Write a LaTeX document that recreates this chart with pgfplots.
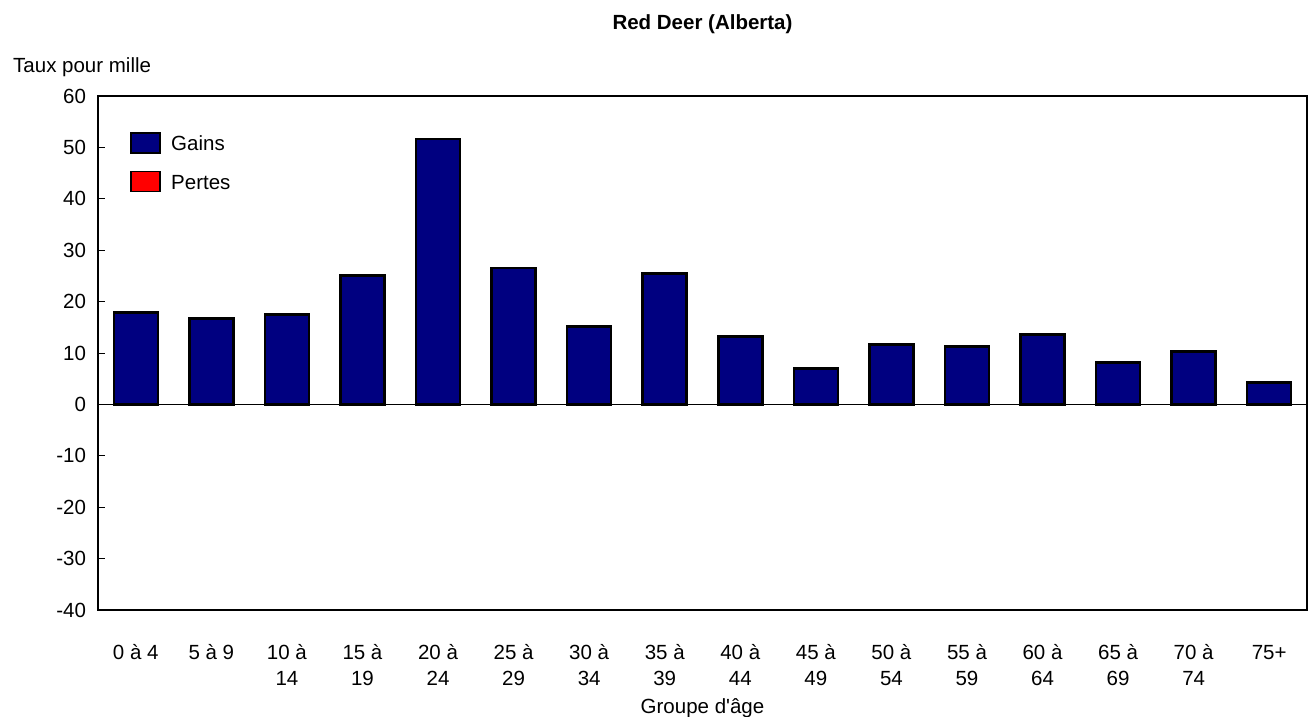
\documentclass[border=0pt]{standalone}
\usepackage{pgfplots}
\pgfplotsset{compat=1.18}
\usepackage{fontspec}
\setmainfont{Liberation Sans}
\definecolor{gainblue}{RGB}{0,0,128}
\definecolor{pertered}{RGB}{255,0,0}

\begin{document}
\fontsize{20.5}{25}\selectfont
\begin{tikzpicture}
\begin{axis}[
  scale only axis,
  width=1209pt, height=514pt,
  ymin=-40, ymax=60,
  ytick={-40,-30,...,60},
  xmin=-0.5, xmax=15.5,
  xtick={0,...,15},
  xticklabels={0 à 4,5 à 9,10 à\\14,15 à\\19,20 à\\24,25 à\\29,30 à\\34,35 à\\39,40 à\\44,45 à\\49,50 à\\54,55 à\\59,60 à\\64,65 à\\69,70 à\\74,75+\vphantom{à}},
  xticklabel style={align=center, anchor=north, yshift=-20pt, font=\fontsize{20.5}{26}\selectfont},
  xtick style={draw=none},
  ytick pos=left, tick align=inside,
  major tick length=7pt,
  ytick style={line width=1pt, black},
  yticklabel style={xshift=-5pt, font=\fontsize{20.5}{25}\selectfont},
  /pgf/number format/assume math mode=true,
  axis line style={line width=2pt},
  extra y ticks={0},
  extra y tick labels={},
  extra y tick style={grid=major, major grid style={black, line width=1pt}, major tick length=0pt},
  ybar, bar width=44pt, bar shift=0pt,
  legend style={draw=none, fill=none, at={(0.024,0.934)}, anchor=north west,
    row sep=15pt, font=\fontsize{20.5}{25}\selectfont},
  legend cell align=left,
  legend image code/.code={\draw[#1, line width=1.5pt] (0pt,-8pt) rectangle (29pt,12pt); \path (37pt,0pt);},
  clip=false,
]
\addplot[fill=gainblue, draw=black, line width=2.5pt] coordinates {
  (0,17.9) (1,16.7) (2,17.5) (3,25.1) (4,51.6) (5,26.5) (6,15.2) (7,25.5)
  (8,13.2) (9,7.0) (10,11.7) (11,11.3) (12,13.6) (13,8.2) (14,10.3) (15,4.3)
};
\addlegendentry{Gains}
\addlegendimage{fill=pertered, draw=black}
\addlegendentry{Pertes}
\coordinate (ll) at (rel axis cs:0,0);
\coordinate (ur) at (rel axis cs:1,1);
\node[font=\bfseries\fontsize{20.5}{25}\selectfont] at ([yshift=72pt]rel axis cs:0.5,1) {Red Deer (Alberta)};
\node[anchor=west, inner sep=0pt] at ([xshift=-85pt, yshift=29pt]rel axis cs:0,1) {Taux pour mille};
\node at ([yshift=-98pt]rel axis cs:0.5,0) {Groupe d\textquotesingle âge};
\end{axis}
\pgfresetboundingbox
\path ([xshift=-98pt,yshift=-106pt]ll) rectangle ([xshift=2pt,yshift=96pt]ur);
\end{tikzpicture}
\end{document}
